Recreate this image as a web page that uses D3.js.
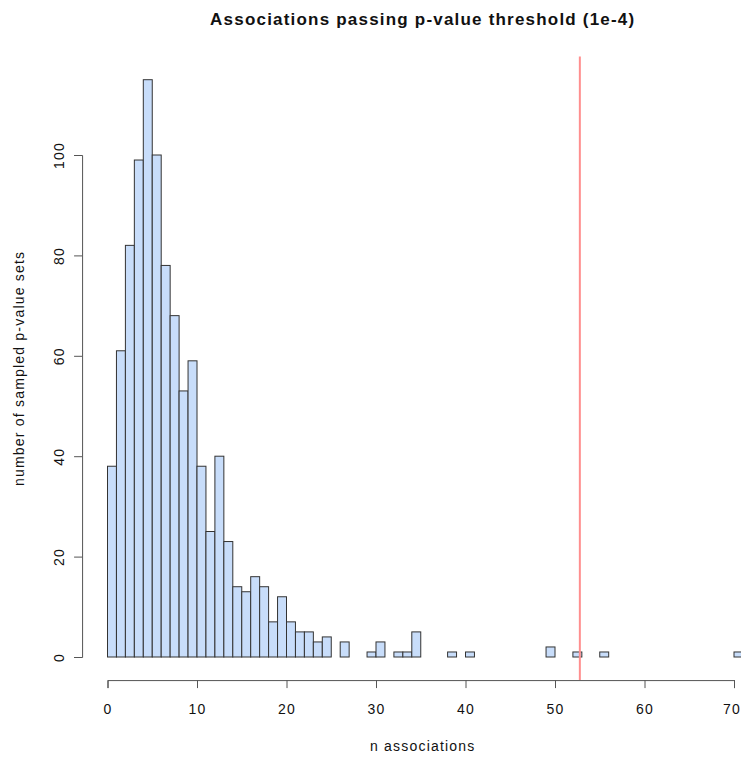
<!DOCTYPE html>
<html>
<head>
<meta charset="utf-8">
<script src="https://cdn.jsdelivr.net/npm/d3@7"></script>
<style>
  body { margin: 0; background: #fff; }
  svg { display: block; font-family: "Liberation Sans", Arial, sans-serif; }
</style>
</head>
<body>
<svg id="chart" width="741" height="758"></svg>
<script>
// Histogram bin starts (width 1) and counts
const binStarts = d3.range(0, 71);
const counts = [38, 61, 82, 99, 115, 100, 78, 68, 53, 59,
                38, 25, 40, 23, 14, 13, 16, 14, 7, 12,
                7, 5, 5, 3, 4, 0, 3, 0, 0, 1,
                3, 0, 1, 1, 5, 0, 0, 0, 1, 0,
                1, 0, 0, 0, 0, 0, 0, 0, 0, 2,
                0, 0, 1, 0, 0, 1, 0, 0, 0, 0,
                0, 0, 0, 0, 0, 0, 0, 0, 0, 0,
                1];
const binWidth = 1;
const observed = 53;
const xTicks = [0, 10, 20, 30, 40, 50, 60, 70];
const yTicks = [0, 20, 40, 60, 80, 100];
const title = "Associations passing p-value threshold (1e-4)";
const xLabel = "n associations";
const yLabel = "number of sampled p-value sets";

const svg = d3.select("#chart");
const x = d3.scaleLinear().domain([0, 70]).range([107.5, 734]);
const y = d3.scaleLinear().domain([0, 100]).range([657, 155]);
const plotTop = y(115 * 1.04);
const plotBottom = y(-115 * 0.04);
const labelFont = 14;
const spacing = "1.2px";

// bars
svg.append("g").selectAll("rect")
  .data(binStarts.map((b, i) => ({b, c: counts[i]})))
  .join("rect")
  .attr("x", d => x(d.b))
  .attr("width", d => x(d.b + binWidth) - x(d.b))
  .attr("y", d => y(d.c))
  .attr("height", d => y(0) - y(d.c))
  .attr("fill", "#c8ddfa")
  .attr("stroke", "#333")
  .attr("stroke-width", 1);

// observed line
svg.append("line")
  .attr("x1", x(observed) - 2).attr("x2", x(observed) - 2)
  .attr("y1", plotTop).attr("y2", plotBottom)
  .attr("stroke", "#ff8f8f").attr("stroke-width", 2);

// x axis
const xAxis = svg.append("g")
  .attr("transform", `translate(0,${plotBottom})`)
  .call(d3.axisBottom(x).tickValues(xTicks).tickSize(8).tickPadding(16).tickFormat(d3.format("d")));
xAxis.selectAll("path, line").attr("stroke", "#555");
xAxis.selectAll("text").attr("font-size", labelFont).attr("fill", "#111")
  .attr("letter-spacing", spacing)
  .attr("font-family", "Liberation Sans, Arial, sans-serif")
  .attr("dx", d => d === 70 ? -2.5 : 0);

// y axis
const yAxisX = x(-2.84);
const yAxis = svg.append("g")
  .attr("transform", `translate(${yAxisX},0)`)
  .call(d3.axisLeft(y).tickValues(yTicks).tickSize(8).tickFormat(d3.format("d")));
yAxis.selectAll("path, line").attr("stroke", "#555");
yAxis.selectAll(".tick text")
  .attr("font-size", labelFont).attr("fill", "#111")
  .attr("letter-spacing", spacing)
  .attr("font-family", "Liberation Sans, Arial, sans-serif")
  .attr("text-anchor", "middle")
  .attr("x", 0).attr("y", 0).attr("dy", 0)
  .attr("transform", "translate(-18,0) rotate(-90)");

// title
svg.append("text")
  .attr("x", (x(0) + x(70)) / 2 + 2).attr("y", 25)
  .attr("text-anchor", "middle")
  .attr("font-weight", "bold").attr("font-size", 17)
  .attr("letter-spacing", spacing)
  .attr("fill", "#111")
  .text(title);

// x label
svg.append("text")
  .attr("x", (x(0) + x(70)) / 2 + 2).attr("y", 751)
  .attr("text-anchor", "middle").attr("font-size", labelFont).attr("fill", "#111")
  .attr("letter-spacing", spacing)
  .text(xLabel);

// y label
svg.append("text")
  .attr("transform", `translate(24,${(plotTop + plotBottom) / 2}) rotate(-90)`)
  .attr("text-anchor", "middle").attr("font-size", labelFont).attr("fill", "#111")
  .attr("letter-spacing", spacing)
  .text(yLabel);
</script>
</body>
</html>
